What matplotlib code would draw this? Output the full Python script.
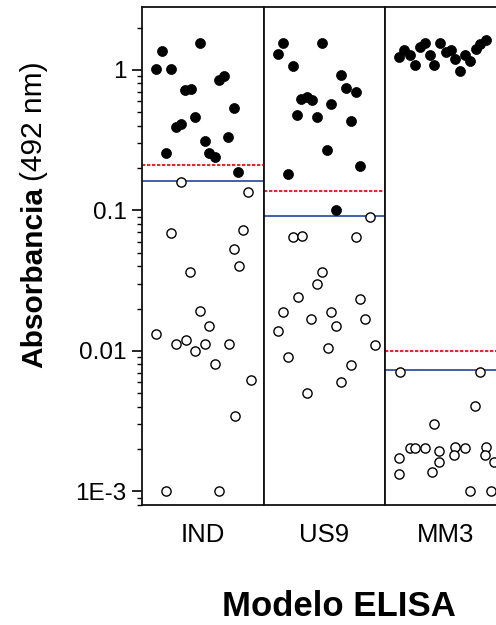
import matplotlib
matplotlib.use("Agg")
import matplotlib.pyplot as plt
from matplotlib.ticker import LogLocator, FixedLocator, NullFormatter

plt.rcParams['font.family'] = ['Liberation Sans', 'DejaVu Sans']

# ---------------- data ----------------
categories = ["IND", "US9", "MM3"]

# positive samples (filled), x = jitter position within panel (0..1)
ind_pos_x = [0.162, 0.477, 0.115, 0.239, 0.636, 0.677, 0.354, 0.401, 0.757,
             0.280, 0.321, 0.436, 0.519, 0.710, 0.198, 0.554, 0.601, 0.793]
ind_pos_y = [1.36, 1.55, 1.02, 1.01, 0.846, 0.903, 0.718, 0.730, 0.532,
             0.390, 0.411, 0.459, 0.313, 0.331, 0.257, 0.255, 0.241, 0.188]
ind_neg_x = [0.319, 0.875, 0.239, 0.834, 0.757, 0.796, 0.395, 0.115, 0.477, 0.554,
             0.280, 0.360, 0.519, 0.436, 0.716, 0.601, 0.897, 0.765, 0.198, 0.636]
ind_neg_y = [0.160, 0.135, 0.0693, 0.0724, 0.0533, 0.0403, 0.0362, 0.0131, 0.0191, 0.0151,
             0.0111, 0.0119, 0.0111, 0.0100, 0.0111, 0.00805, 0.00620, 0.00343, 0.001, 0.001]

us9_pos_x = [0.159, 0.120, 0.478, 0.241, 0.635, 0.676, 0.759, 0.312, 0.360,
             0.401, 0.558, 0.277, 0.442, 0.717, 0.519, 0.795, 0.200, 0.599]
us9_pos_y = [1.55, 1.29, 1.55, 1.06, 0.918, 0.738, 0.698, 0.617, 0.644,
             0.610, 0.568, 0.477, 0.459, 0.434, 0.269, 0.208, 0.182, 0.1005]
us9_neg_x = [0.874, 0.241, 0.318, 0.759, 0.478, 0.442, 0.283, 0.795, 0.159, 0.395,
             0.558, 0.599, 0.838, 0.117, 0.919, 0.530, 0.200, 0.717, 0.634, 0.360]
us9_neg_y = [0.0892, 0.0649, 0.0656, 0.0649, 0.0362, 0.0299, 0.0242, 0.0234, 0.0188, 0.0168,
             0.0188, 0.0150, 0.0168, 0.0139, 0.0110, 0.0105, 0.0090, 0.00792, 0.00597, 0.00499]

mm3_pos_x = [0.112, 0.159, 0.202, 0.244, 0.285, 0.332, 0.368, 0.407, 0.456,
             0.498, 0.540, 0.574, 0.616, 0.655, 0.698, 0.745, 0.786, 0.828]
mm3_pos_y = [1.24, 1.38, 1.27, 1.08, 1.46, 1.56, 1.27, 1.08, 1.54,
             1.35, 1.38, 1.19, 0.985, 1.27, 1.16, 1.40, 1.53, 1.63]
mm3_neg_x = [0.120, 0.786, 0.740, 0.407, 0.202, 0.244, 0.326, 0.442, 0.574, 0.657,
             0.828, 0.112, 0.442, 0.572, 0.822, 0.897, 0.112, 0.386, 0.698, 0.869]
mm3_neg_y = [0.00706, 0.00706, 0.00405, 0.00301, 0.00202, 0.00202, 0.00202, 0.00195, 0.00206, 0.00202,
             0.00206, 0.00173, 0.00162, 0.00181, 0.00181, 0.00162, 0.00134, 0.00137, 0.00101, 0.00101]

cutoff_red = [0.211, 0.137, 0.00997]    # dashed red
cutoff_blue = [0.1625, 0.091, 0.0073]   # solid blue

yticks = [1e-3, 1e-2, 1e-1, 1]
ytick_labels = ["1E-3", "0.01", "0.1", "1"]

# ---------------- figure ----------------
W, H = 496, 625
fig = plt.figure(figsize=(W / 100, H / 100), dpi=100)

left_px, top_px, bottom_px = 142, 7, 505
panel_w = 121.5
panels = [
    (ind_pos_x, ind_pos_y, ind_neg_x, ind_neg_y),
    (us9_pos_x, us9_pos_y, us9_neg_x, us9_neg_y),
    (mm3_pos_x, mm3_pos_y, mm3_neg_x, mm3_neg_y),
]

axes = []
for i, (px, py, nx, ny) in enumerate(panels):
    ax = fig.add_axes([(left_px + i * panel_w) / W, (H - bottom_px) / H,
                       panel_w / W, (bottom_px - top_px) / H])
    ax.set_yscale('log')
    ax.set_ylim(8.0e-4, 2.8)
    ax.set_xlim(0, 1)
    ax.axhline(cutoff_red[i], color='#e8262c', lw=1.5, ls=(0, (1.6, 0.8)), zorder=2)
    ax.axhline(cutoff_blue[i], color='#3353a6', lw=1.3, zorder=2)
    ax.scatter(px, py, s=52, c='black', edgecolors='black', linewidths=0.5, zorder=3)
    ax.scatter(nx, ny, s=44, facecolors='white', edgecolors='black', linewidths=1.0, zorder=3)
    for sp in ax.spines.values():
        sp.set_linewidth(1.3)
        sp.set_color('#111111')
    ax.set_xticks([0.5])
    ax.set_xticklabels([categories[i]], fontsize=18.5)
    ax.tick_params(axis='x', length=0, pad=13)
    if i == 0:
        ax.yaxis.set_major_locator(FixedLocator(yticks))
        ax.set_yticklabels(ytick_labels)
        ax.yaxis.set_minor_locator(LogLocator(base=10, subs=range(2, 10), numticks=20))
        ax.yaxis.set_minor_formatter(NullFormatter())
        ax.tick_params(axis='y', which='major', direction='out', length=7, width=1.2,
                       labelsize=17.5, pad=4)
        ax.tick_params(axis='y', which='minor', direction='out', length=3.5, width=1.0)
    else:
        ax.tick_params(axis='y', which='both', left=False, labelleft=False)
    axes.append(ax)

# y label: bold "Absorbancia" + regular "(492 nm)"
t1 = fig.text(34 / W, (H - 368) / H, "Absorbancia", rotation=90, rotation_mode='anchor',
              ha='left', va='center', fontsize=21.5, fontweight='bold')
fig.canvas.draw()
ext = t1.get_window_extent()
fig.text(34 / W, (ext.y1 + 6) / H, "(492 nm)", rotation=90, rotation_mode='anchor',
         ha='left', va='center', fontsize=21.5)

fig.text(339 / W, (H - 607) / H, "Modelo ELISA", ha='center', va='center',
         fontsize=25, fontweight='bold')

fig.savefig("out.png", dpi=100)
